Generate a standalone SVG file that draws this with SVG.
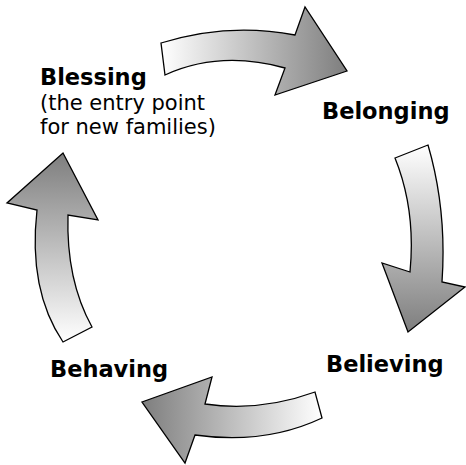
<svg xmlns="http://www.w3.org/2000/svg" width="466" height="465" viewBox="0 0 466 465">
<style>
.arrow{stroke:#000;stroke-width:1.3;stroke-linejoin:miter}
.b{font-family:"DejaVu Sans","Liberation Sans",sans-serif;font-weight:bold;font-size:22.5px;fill:#000}
.r{font-family:"DejaVu Sans","Liberation Sans",sans-serif;font-size:21px;fill:#000}
</style>
<defs>
<linearGradient id="gTop" gradientUnits="userSpaceOnUse" x1="161" y1="0" x2="347" y2="0">
<stop offset="0" stop-color="#ffffff"/><stop offset="1" stop-color="#7e7e7e"/>
</linearGradient>
<linearGradient id="gRight" gradientUnits="userSpaceOnUse" x1="0" y1="145" x2="0" y2="332">
<stop offset="0" stop-color="#ffffff"/><stop offset="1" stop-color="#7e7e7e"/>
</linearGradient>
<linearGradient id="gBottom" gradientUnits="userSpaceOnUse" x1="322" y1="0" x2="142" y2="0">
<stop offset="0" stop-color="#ffffff"/><stop offset="1" stop-color="#7e7e7e"/>
</linearGradient>
<linearGradient id="gLeft" gradientUnits="userSpaceOnUse" x1="0" y1="342" x2="0" y2="153">
<stop offset="0" stop-color="#ffffff"/><stop offset="1" stop-color="#7e7e7e"/>
</linearGradient>
</defs>
<rect width="466" height="465" fill="#fff"/>
<g id="connectors">
<path class="arrow" fill="url(#gTop)" d="M161,43 Q228,22 295,35 L305,7 L347,71 L275,95 L285,68 Q220,50 165,75 Z"/>
<path class="arrow" fill="url(#gRight)" d="M395,158 Q416,210 410,272 L382,263 L408,332 L465,287 L442,282 Q447,210 428,145 Z"/>
<path class="arrow" fill="url(#gBottom)" d="M315,392 Q260,412 205,404 L212,377 L142,402 L185,463 L195,435 Q265,445 322,418 Z"/>
<path class="arrow" fill="url(#gLeft)" d="M63,342 Q28,290 37,210 L7,203 L63,153 L98,220 L68,215 Q66,280 92,327 Z"/>
</g>
<g id="blessing">
<text class="b" x="40" y="85">Blessing</text>
<text class="r" x="40" y="110">(the entry point</text>
<text class="r" x="40" y="134">for new families)</text>
</g>
<g id="belonging"><text class="b" x="322" y="119">Belonging</text></g>
<g id="believing"><text class="b" x="326" y="372">Believing</text></g>
<g id="behaving"><text class="b" x="50" y="377">Behaving</text></g>
</svg>
